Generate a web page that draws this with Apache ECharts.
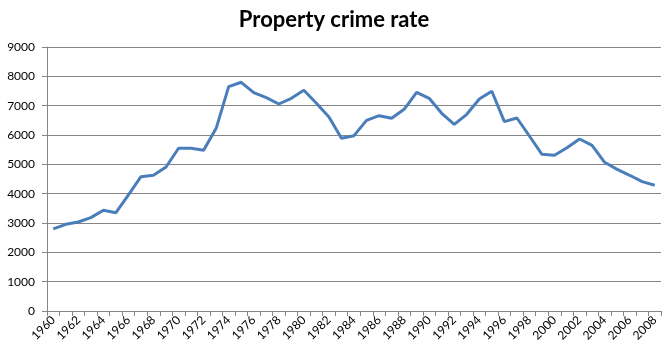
<!DOCTYPE html>
<html>
<head>
<meta charset="utf-8">
<script src="https://cdn.jsdelivr.net/npm/echarts@6/dist/echarts.min.js"></script>
<style>html,body{margin:0;padding:0;background:#fff}#c{width:668px;height:359px}</style>
</head>
<body>
<div id="c"></div>
<script>
const years = [];
for (let y = 1960; y <= 2008; y++) years.push(String(y));
const crimeRate = [2800, 2955, 3034, 3182, 3433, 3352, 3960, 4580, 4627, 4910,
  5547, 5547, 5479, 6228, 7648, 7797, 7443, 7273, 7057, 7250,
  7523, 7080, 6614, 5887, 5977, 6500, 6659, 6568, 6876, 7455,
  7250, 6739, 6364, 6705, 7228, 7490, 6455, 6580, 5966, 5342,
  5308, 5568, 5864, 5648, 5069, 4830, 4627, 4409, 4286];
const titleText = 'Property crime rate';

const chart = echarts.init(document.getElementById('c'));
chart.setOption({
  animation: false,
  title: {
    text: titleText, left: 'center', top: 4,
    textStyle: { fontFamily: 'Lato', fontWeight: 'bold', fontSize: 22, color: '#000' }
  },
  grid: { left: 47, right: 7, top: 47, bottom: 48, containLabel: false },
  xAxis: {
    type: 'category', data: years, boundaryGap: true,
    axisLine: { lineStyle: { color: '#868686', width: 1 } },
    axisTick: { show: true, interval: 0, length: 5, lineStyle: { color: '#868686' } },
    axisLabel: { interval: 1, rotate: 45, fontFamily: 'Lato', fontSize: 12, color: '#000', margin: 7 },
    splitLine: { show: false }
  },
  yAxis: {
    type: 'value', min: 0, max: 9000, interval: 1000,
    axisLine: { show: true, lineStyle: { color: '#868686', width: 1 } },
    axisTick: { show: true, length: 5, lineStyle: { color: '#868686' } },
    axisLabel: { fontFamily: 'Lato', fontSize: 12, color: '#000', margin: 12, formatter: v => String(v) },
    splitLine: { lineStyle: { color: '#868686', width: 1 } }
  },
  series: [{
    type: 'line', data: crimeRate, symbol: 'none',
    lineStyle: { color: '#4a7ebb', width: 3 }
  }]
});
</script>
</body>
</html>
